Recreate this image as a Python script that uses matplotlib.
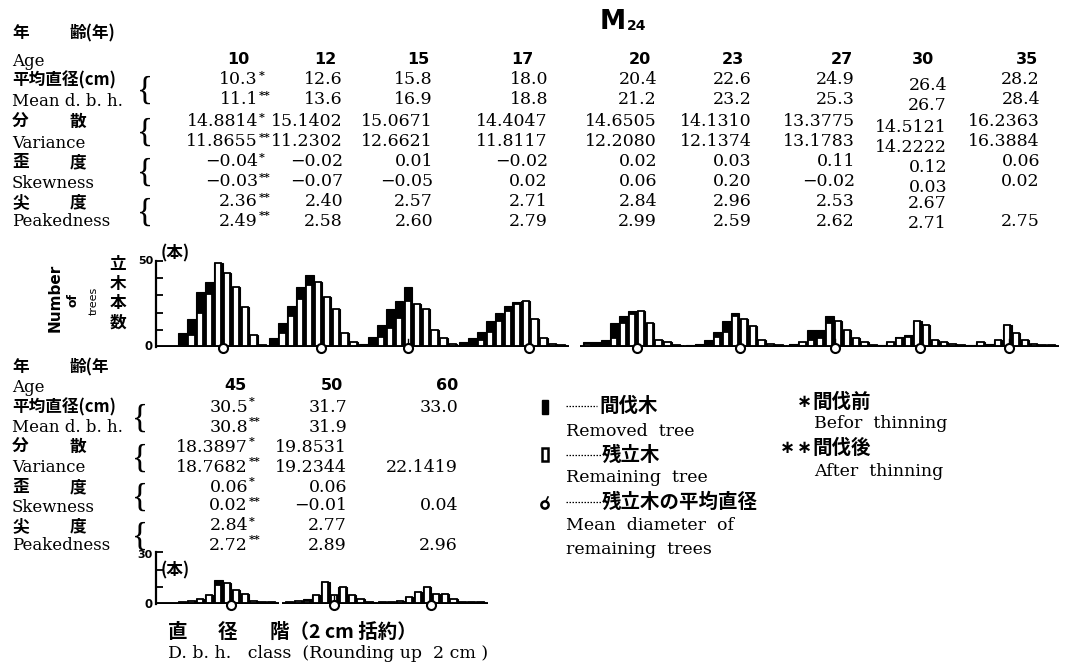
import numpy as np
import matplotlib
matplotlib.use("Agg")
import matplotlib.pyplot as plt
from matplotlib.patches import Rectangle

# ---------------- table values ----------------
ages_top = ["10", "12", "15", "17", "20", "23", "27", "30", "35"]
mean_before_top = ["10.3*", "12.6", "15.8", "18.0", "20.4", "22.6", "24.9", "26.4", "28.2"]
mean_after_top = ["11.1**", "13.6", "16.9", "18.8", "21.2", "23.2", "25.3", "26.7", "28.4"]
var_before_top = ["14.8814*", "15.1402", "15.0671", "14.4047", "14.6505", "14.1310", "13.3775", "14.5121", "16.2363"]
var_after_top = ["11.8655**", "11.2302", "12.6621", "11.8117", "12.2080", "12.1374", "13.1783", "14.2222", "16.3884"]
skew_before_top = ["−0.04*", "−0.02", "0.01", "−0.02", "0.02", "0.03", "0.11", "0.12", "0.06"]
skew_after_top = ["−0.03**", "−0.07", "−0.05", "0.02", "0.06", "0.20", "−0.02", "0.03", "0.02"]
peak_before_top = ["2.36**", "2.40", "2.57", "2.71", "2.84", "2.96", "2.53", "2.67", ""]
peak_after_top = ["2.49**", "2.58", "2.60", "2.79", "2.99", "2.59", "2.62", "2.71", "2.75"]

ages_bot = ["45", "50", "60"]
mean_before_bot = ["30.5*", "31.7", "33.0"]
mean_after_bot = ["30.8**", "31.9", ""]
var_before_bot = ["18.3897*", "19.8531", ""]
var_after_bot = ["18.7682**", "19.2344", "22.1419"]
skew_before_bot = ["0.06*", "0.06", ""]
skew_after_bot = ["0.02**", "−0.01", "0.04"]
peak_before_bot = ["2.84*", "2.77", ""]
peak_after_bot = ["2.72**", "2.89", "2.96"]

# ---------------- stand tables (trees per 2 cm class) ----------------
# total = before thinning, remain = remaining after thinning
first_class_top = [2, 3, 7, 4, 10, 12, 16, 18, 20]
total_top = [
    [8, 16, 32, 38, 49, 43, 35, 23, 7, 1],
    [5, 14, 24, 35, 42, 38, 29, 22, 8, 3],
    [2, 6, 13, 22, 27, 35, 25, 22, 10, 5, 2],
    [3, 5, 9, 15, 20, 24, 26, 27, 16, 5, 2, 1],
    [3, 3, 4, 14, 18, 21, 21, 14, 4, 3, 1],
    [1, 2, 4, 9, 15, 20, 16, 12, 4, 2, 1],
    [2, 3, 10, 10, 18, 15, 10, 5, 3, 1],
    [1, 3, 6, 7, 15, 13, 4, 3, 2, 1],
    [1, 3, 2, 4, 13, 8, 4, 2, 1, 1],
]
remain_top = [
    [0, 7, 20, 31, 49, 43, 35, 23, 7, 1],
    [0, 8, 18, 28, 36, 38, 29, 22, 8, 3],
    [0, 1, 6, 11, 17, 27, 25, 22, 10, 5, 2],
    [0, 1, 4, 9, 15, 21, 25, 27, 16, 5, 2, 1],
    [2, 1, 1, 5, 14, 19, 21, 14, 4, 3, 1],
    [0, 1, 1, 6, 9, 18, 16, 12, 4, 2, 1],
    [1, 3, 4, 5, 14, 15, 10, 5, 3, 1],
    [0, 3, 5, 6, 15, 13, 4, 3, 2, 1],
    [0, 3, 1, 4, 13, 8, 4, 2, 1, 1],
]
first_class_bot = [20, 22, 22]
total_bot = [
    [1, 2, 3, 5, 14, 12, 8, 6, 2, 1, 1],
    [1, 2, 3, 5, 13, 5, 10, 5, 3, 1],
    [1, 1, 2, 4, 7, 10, 6, 6, 3, 1, 1, 1],
]
remain_bot = [
    [1, 2, 3, 5, 11, 12, 8, 6, 2, 1, 1],
    [1, 2, 2, 5, 13, 5, 10, 5, 3, 1],
    [1, 1, 2, 4, 7, 10, 6, 6, 3, 1, 1, 1],
]
mean_remain_top = [11.1, 13.6, 16.9, 18.8, 21.2, 23.2, 25.3, 26.7, 28.4]
mean_remain_bot = [30.8, 31.9, 33.0]

# ---------------- figure & helpers ----------------
W, H = 1068, 665
fig = plt.figure(figsize=(W / 100, H / 100), dpi=100)
ov = fig.add_axes([0, 0, 1, 1])
ov.set_xlim(0, W)
ov.set_ylim(H, 0)
ov.axis("off")

SERIF = "DejaVu Serif"
CJK = ["Noto Sans CJK JP", "DejaVu Sans"]
BOLD_SANS = "DejaVu Sans"


def txt(x, y, s, size=12, family=SERIF, weight="normal", ha="left", va="center", **kw):
    ov.text(x, y, s, fontsize=size, family=family, fontweight=weight,
            ha=ha, va=va, color="black", **kw)


def value(x_right, y, s, size=12.5):
    num = s.rstrip("*")
    stars = s[len(num):]
    if num:
        txt(x_right, y, num, size=size, ha="right")
    if stars:
        txt(x_right + 1, y - 5, stars, size=8, weight="bold", ha="left")


def brace(x, y, size=24):
    txt(x, y, "{", size=size, family="Liberation Serif", ha="center", va="center")


def row_labels(y_rows, x_brace, truncated=False):
    jp = [("年", "齢(年" if truncated else "齢(年)"), ("平均直径(cm)", None),
          ("分", "散"), ("歪", "度"), ("尖", "度")]
    en = ["Age", "Mean d. b. h.", "Variance", "Skewness", "Peakedness"]
    for k in range(5):
        yj, ye = y_rows[2 * k], y_rows[2 * k + 1]
        a, b = jp[k]
        txt(12, yj, a, size=12, family=CJK, weight="bold")
        if b:
            txt(70, yj, b, size=12, family=CJK, weight="bold")
        txt(12, ye + 1, en[k], size=12, family=SERIF)
        if k > 0:
            brace(x_brace, (yj + ye) / 2 + 1)


def table(y_rows, ages, centres, rights, rows, dys):
    for j, a in enumerate(ages):
        txt(centres[j], y_rows[1], a, size=11.5, family=BOLD_SANS, weight="bold", ha="center")
    for r, vals in enumerate(rows):
        for j, s in enumerate(vals):
            value(rights[j], y_rows[r + 2] + dys[j] * (1 if r < 6 else 0.4), s)


# ---------------- title ----------------
txt(600, 22, "M", size=19, family=BOLD_SANS, weight="bold")
txt(627, 26, "24", size=10, family=BOLD_SANS, weight="bold")

# ---------------- top table ----------------
rows_top_y = [33, 60, 80, 100, 122, 142, 162, 182, 202, 221]
row_labels(rows_top_y, 145)
table(rows_top_y, ages_top,
      [238, 325, 418, 522, 640, 733, 842, 923, 1027],
      [258, 343, 433, 548, 657, 752, 855, 947, 1040],
      [mean_before_top, mean_after_top, var_before_top, var_after_top,
       skew_before_top, skew_after_top, peak_before_top, peak_after_top],
      [0, 0, 0, 0, 0, 0, 0, 5, 0])

# ---------------- bottom table ----------------
rows_bot_y = [367, 386, 407, 427, 447, 467, 487, 506, 526, 545]
row_labels(rows_bot_y, 140, truncated=True)
table(rows_bot_y, ages_bot, [235, 332, 447], [248, 347, 458],
      [mean_before_bot, mean_after_bot, var_before_bot, var_after_bot,
       skew_before_bot, skew_after_bot, peak_before_bot, peak_after_bot],
      [0, 0, 0])

# ---------------- histograms ----------------
PPC = 4.45     # pixels per cm of diameter
PPU = 1.72     # pixels per tree
YSPAN = 56


def panel(bar_left, first, total, remain, mean, y0, axis_x=None, ymax=None):
    n = len(total)
    centres = first + 2 * np.arange(n)
    edge0 = first - 1
    left = axis_x if axis_x is not None else bar_left - 3
    right = bar_left + n * 2 * PPC + 3
    ax = fig.add_axes([left / W, 1 - y0 / H, (right - left) / W, YSPAN * PPU / H])
    ax.set_xlim(edge0 - (bar_left - left) / PPC, edge0 + (right - bar_left) / PPC)
    ax.set_ylim(0, YSPAN)
    ax.patch.set_alpha(0)
    ax.bar(centres, total, width=2, color="black", edgecolor="black", linewidth=0.8, zorder=2)
    ax.bar(centres, remain, width=1.45, color="white", edgecolor="black", linewidth=1.3, zorder=3)
    ax.axhline(0, color="black", lw=2.8, zorder=4)
    ax.plot([mean, mean], [0, 4.5], color="black", lw=1.0, zorder=5, clip_on=False)
    ax.plot([mean], [-0.6], "o", ms=6.5, mfc="white", mec="black", mew=1.5,
            zorder=6, clip_on=False)
    for s in ["top", "right", "bottom"]:
        ax.spines[s].set_visible(False)
    ax.set_xticks([])
    if ymax is None:
        ax.spines["left"].set_visible(False)
        ax.set_yticks([])
    else:
        ax.spines["left"].set_bounds(0, ymax)
        ax.spines["left"].set_linewidth(1.6)
        ax.set_yticks(np.arange(10, ymax + 1, 10))
        ax.tick_params(axis="y", direction="in", length=5, width=1.3, labelleft=False)
    return ax


bar_left_top = [178, 269, 359, 459, 583, 686, 789, 877, 967]
for i in range(9):
    panel(bar_left_top[i], first_class_top[i], total_top[i], remain_top[i],
          mean_remain_top[i], 347, axis_x=156 if i == 0 else None,
          ymax=50 if i == 0 else None)

bar_left_bot = [178, 285, 378]
for i in range(3):
    panel(bar_left_bot[i], first_class_bot[i], total_bot[i], remain_bot[i],
          mean_remain_bot[i], 604, axis_x=156 if i == 0 else None,
          ymax=30 if i == 0 else None)

# axis annotations
txt(153, 261, "50", size=8, family=BOLD_SANS, weight="bold", ha="right")
txt(153, 347, "0", size=8.5, family=BOLD_SANS, weight="bold", ha="right")
txt(153, 555, "30", size=8, family=BOLD_SANS, weight="bold", ha="right")
txt(153, 604, "0", size=8.5, family=BOLD_SANS, weight="bold", ha="right")
txt(161, 253, "(本)", size=12, family=CJK, weight="bold")
txt(161, 570, "(本)", size=12, family=CJK, weight="bold")
txt(55, 298, "Number", size=11, family=BOLD_SANS, weight="bold", ha="center", rotation=90)
txt(73, 300, "of", size=9, family=BOLD_SANS, weight="bold", ha="center", rotation=90)
txt(94, 301, "trees", size=8, family=BOLD_SANS, ha="center", rotation=90)
for k, ch in enumerate("立木本数"):
    txt(118, 264 + 19.5 * k, ch, size=12, family=CJK, weight="bold", ha="center")

txt(168, 632, "直", size=14, family=CJK, weight="bold")
txt(218, 632, "径", size=14, family=CJK, weight="bold")
txt(270, 632, "階（2 cm 括約）", size=14, family=CJK, weight="bold")
txt(168, 654, "D. b. h.   class  (Rounding up  2 cm )", size=12.5, family=SERIF)

# ---------------- legend ----------------
ov.add_patch(Rectangle((542, 400), 6, 14, facecolor="black", edgecolor="black", lw=1))
ov.add_patch(Rectangle((542, 448), 6, 13, facecolor="white", edgecolor="black", lw=1.8))
ov.add_patch(plt.Circle((545, 505), 3.6, facecolor="white", edgecolor="black", lw=1.8))
ov.plot([546, 548], [501, 497], color="black", lw=1.2)
for yy, x0, x1 in [(406, 566, 597), (455, 566, 601), (502, 566, 601)]:
    ov.plot([x0, x1], [yy, yy], color="black", lw=0.9, ls=(0, (1.2, 1.2)))
txt(599, 406, "間伐木", size=14, family=CJK, weight="bold")
txt(566, 431, "Removed  tree", size=12.5, family=SERIF)
txt(602, 455, "残立木", size=14, family=CJK, weight="bold")
txt(566, 478, "Remaining  tree", size=12.5, family=SERIF)
txt(602, 502, "残立木の平均直径", size=14, family=CJK, weight="bold")
txt(566, 526, "Mean  diameter  of", size=12.5, family=SERIF)
txt(566, 549, "remaining  trees", size=12.5, family=SERIF)

txt(797, 402, "∗", size=13, family=BOLD_SANS, weight="bold")
txt(812, 402, "間伐前", size=14, family=CJK, weight="bold")
txt(814, 424, "Befor  thinning", size=12.5, family=SERIF)
txt(780, 448, "∗", size=13, family=BOLD_SANS, weight="bold")
txt(797, 448, "∗", size=13, family=BOLD_SANS, weight="bold")
txt(812, 448, "間伐後", size=14, family=CJK, weight="bold")
txt(814, 472, "After  thinning", size=12.5, family=SERIF)

fig.savefig("out.png", dpi=100, facecolor="white")
